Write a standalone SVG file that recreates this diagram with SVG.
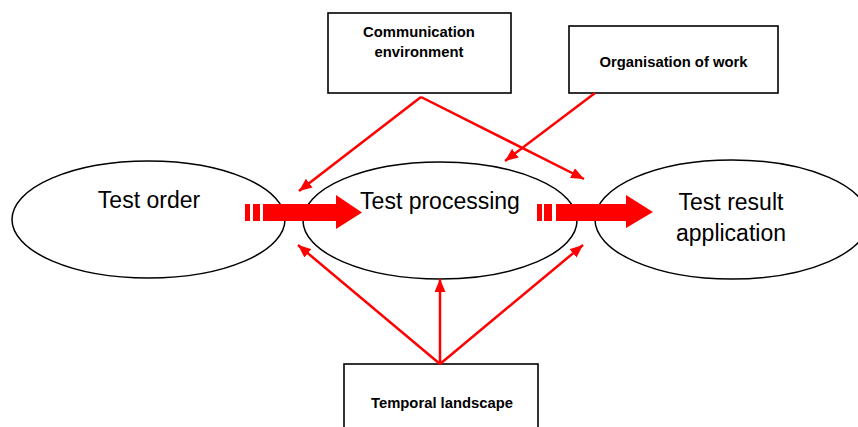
<svg xmlns="http://www.w3.org/2000/svg" width="858" height="427" viewBox="0 0 858 427">
<style>
.ell{fill:#fff;stroke:#000;stroke-width:1.5}
.box{fill:#fff;stroke:#000;stroke-width:1.6}
.lt{font-family:"Liberation Sans",Arial,sans-serif;font-size:23px;fill:#000;text-anchor:middle}
.bt{font-family:"Liberation Sans",Arial,sans-serif;font-size:14.8px;font-weight:bold;fill:#000;text-anchor:middle}
.con{stroke:#f00;stroke-width:2.5;fill:none;marker-end:url(#ah)}
.big{fill:#f00}
</style>
<defs>
<marker id="ah" viewBox="0 0 13 11" refX="13" refY="5.5" markerWidth="13" markerHeight="11" markerUnits="userSpaceOnUse" orient="auto">
<path d="M0,0 L13,5.5 L0,11 z" fill="#f00"/>
</marker>
</defs>
<rect width="858" height="427" fill="#fff"/>
<g id="test-order">
<ellipse class="ell" cx="148.5" cy="219.5" rx="136.5" ry="58.5"/>
<text class="lt" x="149" y="208">Test order</text>
</g>
<g id="test-processing">
<ellipse class="ell" cx="440" cy="220.5" rx="137" ry="58.5"/>
<text class="lt" x="440" y="209">Test processing</text>
</g>
<g id="test-result">
<ellipse class="ell" cx="732" cy="219.5" rx="137" ry="59.5"/>
<text class="lt" x="731" y="210">Test result</text>
<text class="lt" x="731" y="241">application</text>
</g>
<g id="communication-environment">
<rect class="box" x="328" y="13" width="183" height="80"/>
<text class="bt" x="419" y="37">Communication</text>
<text class="bt" x="419" y="57">environment</text>
</g>
<g id="organisation-of-work">
<rect class="box" x="569" y="26" width="209" height="67"/>
<text class="bt" x="673.5" y="67">Organisation of work</text>
</g>
<g id="temporal-landscape">
<rect class="box" x="344" y="364" width="194" height="80"/>
<text class="bt" x="442" y="408">Temporal landscape</text>
</g>
<g id="connectors">
<rect class="big" x="245" y="204" width="5" height="17"/>
<rect class="big" x="253" y="204" width="7" height="17"/>
<polygon class="big" points="263,204 336,204 336,195 362,212.5 336,229 336,221 263,221"/>
<rect class="big" x="537" y="204" width="5" height="17"/>
<rect class="big" x="544" y="204" width="8" height="17"/>
<polygon class="big" points="556,204 626,204 626,195 653,212 626,228 626,221 556,221"/>
<line class="con" x1="421" y1="97" x2="299" y2="191"/>
<line class="con" x1="421" y1="97" x2="584" y2="179"/>
<line class="con" x1="595" y1="93" x2="505" y2="161"/>
<line class="con" x1="440" y1="364" x2="298" y2="245"/>
<line class="con" x1="440" y1="364" x2="440" y2="279"/>
<line class="con" x1="440" y1="364" x2="583" y2="245"/>
</g>
</svg>
